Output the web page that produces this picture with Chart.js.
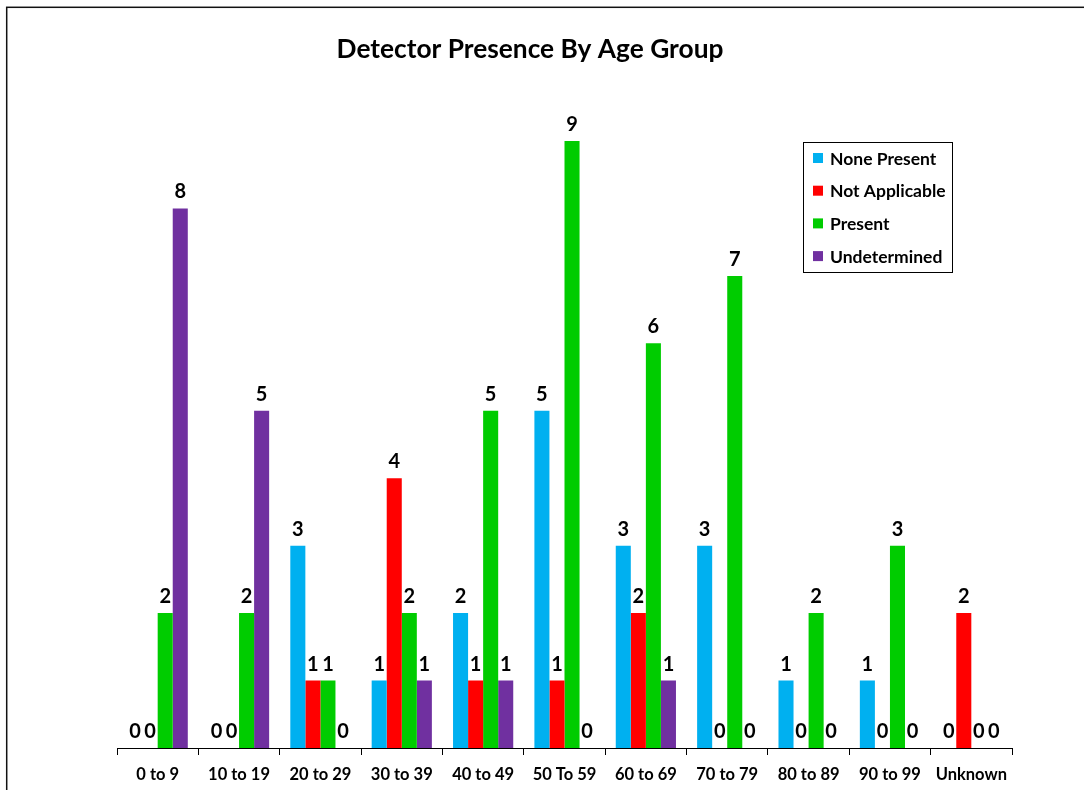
<!DOCTYPE html>
<html>
<head>
<meta charset="utf-8">
<script src="https://cdn.jsdelivr.net/npm/chart.js@4/dist/chart.umd.min.js"></script>
<style>
  html, body { margin: 0; padding: 0; background: #ffffff; }
  #wrap { width: 1084px; height: 790px; position: relative; }
</style>
</head>
<body>
<div id="wrap"><canvas id="c" width="1084" height="790"></canvas></div>
<script>
const ageGroups = ['0 to 9', '10 to 19', '20 to 29', '30 to 39', '40 to 49', '50 To 59', '60 to 69', '70 to 79', '80 to 89', '90 to 99', 'Unknown'];
const nonePresent   = [0, 0, 3, 1, 2, 5, 3, 3, 1, 1, 0];
const notApplicable = [0, 0, 1, 4, 1, 1, 2, 0, 0, 0, 2];
const present       = [2, 2, 1, 2, 5, 9, 6, 7, 2, 3, 0];
const undetermined  = [8, 5, 0, 1, 1, 0, 1, 0, 0, 0, 0];
const chartTitle = 'Detector Presence By Age Group';

const FONT = 'Lato, "Open Sans", "DejaVu Sans", sans-serif';

// Frame around the whole chart and the centred heading
const framePlugin = {
  id: 'frame',
  beforeDraw(chart) {
    const ctx = chart.ctx;
    ctx.save();
    ctx.fillStyle = '#ffffff';
    ctx.fillRect(0, 0, chart.width, chart.height);
    ctx.strokeStyle = '#111111';
    ctx.lineWidth = 1.5;
    ctx.strokeRect(6.7, 7.3, chart.width + 20, chart.height + 20);
    ctx.font = 'bold 26.3px ' + FONT;
    ctx.fillStyle = '#000000';
    ctx.textAlign = 'center';
    ctx.textBaseline = 'middle';
    ctx.fillText(chartTitle, 530, 50);
    ctx.restore();
  }
};

// Value printed above every bar (zeros included)
const valueLabels = {
  id: 'valueLabels',
  afterDatasetsDraw(chart) {
    const ctx = chart.ctx;
    ctx.save();
    ctx.font = 'bold 20px ' + FONT;
    ctx.fillStyle = '#000000';
    ctx.textAlign = 'center';
    ctx.textBaseline = 'alphabetic';
    chart.data.datasets.forEach((ds, i) => {
      const meta = chart.getDatasetMeta(i);
      meta.data.forEach((bar, j) => {
        ctx.fillText(String(ds.data[j]), bar.x, bar.y - 10);
      });
    });
    ctx.restore();
  }
};

// Boxed legend in the upper right of the plot
const boxedLegend = {
  id: 'boxedLegend',
  afterDraw(chart) {
    const ctx = chart.ctx;
    const x0 = 803.5, y0 = 142.5, w = 149, h = 130;
    ctx.save();
    ctx.fillStyle = '#ffffff';
    ctx.fillRect(x0, y0, w, h);
    ctx.strokeStyle = '#000000';
    ctx.lineWidth = 1;
    ctx.strokeRect(x0, y0, w, h);
    ctx.font = 'bold 17.5px ' + FONT;
    ctx.textBaseline = 'middle';
    ctx.textAlign = 'left';
    chart.data.datasets.forEach((ds, i) => {
      const cy = 158 + i * 32.7;
      ctx.fillStyle = ds.backgroundColor;
      ctx.fillRect(813, cy - 5, 10, 10);
      ctx.fillStyle = '#000000';
      ctx.fillText(ds.label, 830, cy + 1);
    });
    ctx.restore();
  }
};

new Chart(document.getElementById('c'), {
  type: 'bar',
  data: {
    labels: ageGroups,
    datasets: [
      { label: 'None Present',   data: nonePresent,   backgroundColor: '#00B0F0' },
      { label: 'Not Applicable', data: notApplicable, backgroundColor: '#FF0000' },
      { label: 'Present',        data: present,       backgroundColor: '#00CC00' },
      { label: 'Undetermined',   data: undetermined,  backgroundColor: '#7030A0' }
    ]
  },
  options: {
    responsive: false,
    animation: false,
    devicePixelRatio: 1,
    layout: { padding: { left: 117, right: 72, top: 73.6, bottom: 0 } },
    datasets: { bar: { categoryPercentage: 0.74, barPercentage: 1.0, borderWidth: 0 } },
    plugins: {
      legend: { display: false },
      tooltip: { enabled: false },
      title: { display: false }
    },
    scales: {
      x: {
        afterFit(scale) { scale.height = 42; },
        grid: { display: true, drawOnChartArea: false, offset: true, color: '#000000', tickLength: 7, tickWidth: 1 },
        border: { display: true, color: '#000000', width: 1 },
        ticks: { color: '#000000', font: { family: FONT, size: 16.5, weight: 'bold' }, padding: 10, maxRotation: 0, autoSkip: false }
      },
      y: {
        display: false,
        min: 0,
        max: 10
      }
    }
  },
  plugins: [framePlugin, valueLabels, boxedLegend]
});
</script>
</body>
</html>
